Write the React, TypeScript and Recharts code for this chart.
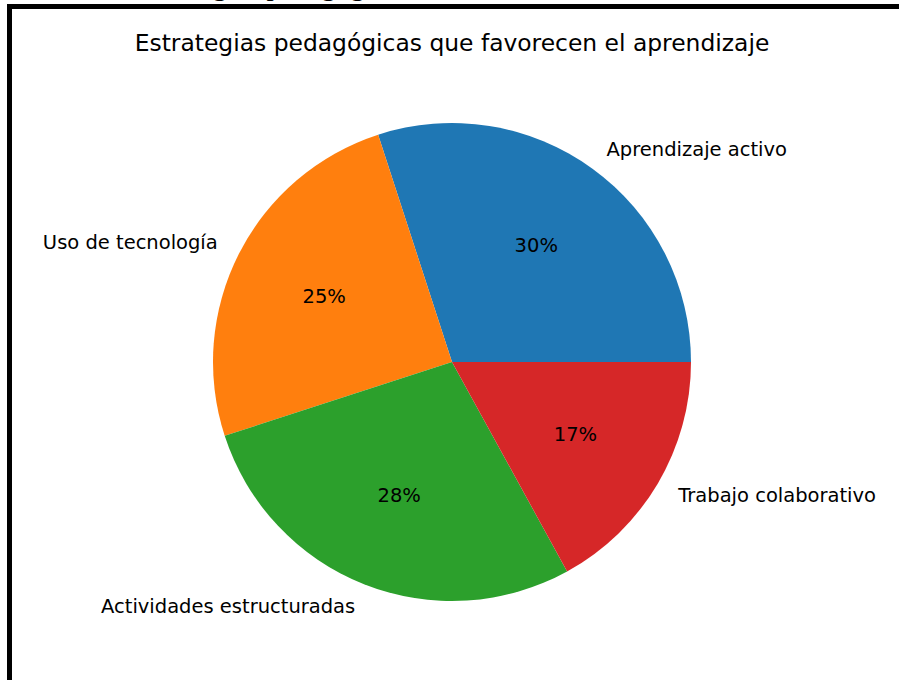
import { PieChart, Pie, Cell } from 'recharts';

const categories = ['Aprendizaje activo', 'Uso de tecnología', 'Actividades estructuradas', 'Trabajo colaborativo'];
const shares = [30, 25, 28, 17];
const colors = ['#1f77b4', '#ff7f0e', '#2ca02c', '#d62728'];

const title = 'Estrategias pedagógicas que favorecen el aprendizaje';

const RADIAN = Math.PI / 180;

// matplotlib-style labels: name at 1.1r, percentage at 0.6r
function renderLabel(props: any) {
  const { cx, cy, midAngle, outerRadius, percent, name } = props;
  const cos = Math.cos(-midAngle * RADIAN);
  const sin = Math.sin(-midAngle * RADIAN);
  const nx = cx + outerRadius * 1.1 * cos;
  const ny = cy + outerRadius * 1.1 * sin;
  const px = cx + outerRadius * 0.6 * cos;
  const py = cy + outerRadius * 0.6 * sin;
  return (
    <g>
      <text x={nx} y={ny} textAnchor={nx > cx ? 'start' : 'end'} dominantBaseline="central"
        fontFamily="DejaVu Sans" fontSize={19.5} fill="#000">
        {name}
      </text>
      <text x={px} y={py} textAnchor="middle" dominantBaseline="central"
        fontFamily="DejaVu Sans" fontSize={19.5} fill="#000">
        {`${Math.round(percent * 100)}%`}
      </text>
    </g>
  );
}

export default function App() {
  const data = categories.map((name, i) => ({ name, value: shares[i] }));

  return (
    <div style={{ position: 'absolute', left: 0, top: 0, width: 899, height: 680, overflow: 'hidden', background: '#fff' }}>
      {/* clipped caption line above the frame */}
      <div style={{ position: 'absolute', left: 132, top: -30, fontFamily: 'Liberation Serif', fontSize: 29, lineHeight: '30px', whiteSpace: 'nowrap', color: '#000' }}>
        Estrategias pedagógicas
      </div>
      <div style={{ position: 'absolute', left: 7, top: 4, width: 900, height: 690, borderLeft: '5px solid #000', borderTop: '5px solid #000' }} />
      <div style={{ position: 'absolute', left: 0, top: 28, width: 904, textAlign: 'center', fontFamily: 'DejaVu Sans', fontSize: 23.4, lineHeight: '30px', color: '#000' }}>
        {title}
      </div>
      <div style={{ position: 'absolute', left: 0, top: 0 }}>
        <PieChart width={899} height={680} margin={{ top: 0, right: 0, bottom: 0, left: 0 }}>
          <Pie
            data={data}
            dataKey="value"
            nameKey="name"
            cx={452}
            cy={362}
            outerRadius={239}
            startAngle={0}
            endAngle={360}
            stroke="none"
            label={renderLabel}
            labelLine={false}
            isAnimationActive={false}
          >
            {data.map((d, i) => (
              <Cell key={d.name} fill={colors[i]} />
            ))}
          </Pie>
        </PieChart>
      </div>
    </div>
  );
}
